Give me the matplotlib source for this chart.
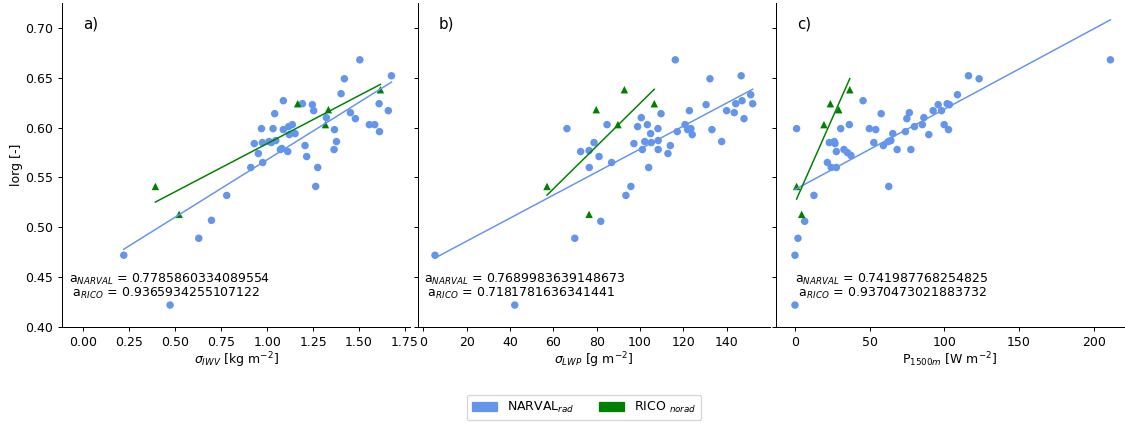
import numpy as np
import matplotlib
matplotlib.use("Agg")
import matplotlib.pyplot as plt
from matplotlib.patches import Patch

# ---------------- data ----------------
# NARVAL (rad) panel a: sigma_IWV vs lorg
narval_iwv = [1.504, 1.676, 1.420, 1.402, 1.088, 1.192, 1.246, 1.253, 1.041, 1.609, 1.659, 1.453,
              1.480, 1.322, 0.969, 1.032, 1.088, 1.117, 1.137, 1.121, 1.152, 1.366, 1.556, 1.585,
              1.611, 0.930, 0.974, 1.010, 1.023, 1.047, 1.206, 1.377, 0.952, 1.072, 1.080, 1.112,
              1.364, 1.215, 0.976, 0.911, 1.275, 1.264, 0.780, 0.697, 0.628, 0.220, 0.472]
narval_iwv_lorg = [0.668, 0.652, 0.649, 0.634, 0.627, 0.624, 0.623, 0.617, 0.614, 0.624, 0.617, 0.615,
                   0.609, 0.610, 0.599, 0.599, 0.598, 0.601, 0.603, 0.593, 0.594, 0.598, 0.603, 0.603,
                   0.596, 0.584, 0.585, 0.586, 0.585, 0.587, 0.582, 0.586, 0.574, 0.578, 0.579, 0.576,
                   0.578, 0.571, 0.565, 0.560, 0.560, 0.541, 0.532, 0.507, 0.489, 0.472, 0.422]

# NARVAL panel b: sigma_LWP vs lorg
narval_lwp = [116.3, 132.3, 146.7, 151.1, 147.1, 144.2, 152.0, 130.5, 122.8, 140.0, 143.5, 109.7,
              148.0, 100.6, 84.8, 98.9, 103.4, 108.3, 120.8, 122.0, 123.5, 133.2, 117.2, 124.1,
              104.9, 66.3, 78.8, 76.5, 72.6, 81.1, 86.9, 76.6, 97.2, 102.2, 105.2, 108.4,
              101.1, 108.4, 114.0, 112.9, 137.7, 104.0, 95.8, 93.5, 81.9, 69.9, 5.4, 42.2]
narval_lwp_lorg = [0.668, 0.649, 0.652, 0.633, 0.627, 0.624, 0.624, 0.623, 0.617, 0.617, 0.615, 0.614,
                   0.609, 0.610, 0.603, 0.601, 0.603, 0.599, 0.603, 0.598, 0.599, 0.598, 0.596, 0.593,
                   0.594, 0.599, 0.585, 0.577, 0.576, 0.571, 0.565, 0.560, 0.584, 0.586, 0.585, 0.587,
                   0.578, 0.578, 0.582, 0.574, 0.586, 0.560, 0.541, 0.532, 0.506, 0.489, 0.472, 0.422]

# NARVAL panel c: P_1500m vs lorg
narval_p = [211.2, 116.2, 123.3, 108.8, 45.6, 95.9, 101.9, 103.4, 92.5, 98.1, 76.6, 57.7,
            74.9, 86.3, 1.1, 30.6, 36.4, 49.8, 54.1, 80.0, 85.3, 99.9, 102.8, 74.0,
            65.5, 89.6, 23.0, 26.3, 26.8, 52.8, 59.2, 62.5, 64.2, 27.7, 32.8, 35.1,
            37.5, 68.4, 77.6, 21.7, 24.3, 27.7, 62.8, 12.7, 6.5, 2.0, 0.0, 0.0]
narval_p_lorg = [0.668, 0.652, 0.649, 0.633, 0.627, 0.623, 0.624, 0.623, 0.617, 0.617, 0.615, 0.614,
                 0.609, 0.610, 0.599, 0.599, 0.603, 0.599, 0.598, 0.601, 0.603, 0.603, 0.598, 0.596,
                 0.594, 0.593, 0.585, 0.586, 0.584, 0.585, 0.582, 0.586, 0.587, 0.576, 0.578, 0.575,
                 0.572, 0.578, 0.578, 0.565, 0.560, 0.560, 0.541, 0.532, 0.506, 0.489, 0.472, 0.422]

# RICO (norad)
rico_lorg = [0.541, 0.513, 0.624, 0.618, 0.603, 0.638]
rico_iwv = [0.392, 0.521, 1.166, 1.333, 1.317, 1.616]
rico_lwp = [57.1, 76.5, 106.6, 79.8, 89.8, 92.8]
rico_p = [1.1, 4.5, 23.7, 29.3, 19.4, 36.7]

panel_labels = ["a)", "b)", "c)"]
xlabels = [r"$\sigma_{IWV}$ [kg m$^{-2}$]", r"$\sigma_{LWP}$ [g m$^{-2}$]", r"P$_{1500m}$ [W m$^{-2}$]"]
a_narval = ["0.7785860334089554", "0.7689983639148673", "0.741987768254825"]
a_rico = ["0.9365934255107122", "0.7181781636341441", "0.9370473021883732"]
xticks_list = [np.arange(0, 1.76, 0.25), np.arange(0, 141, 20), np.arange(0, 201, 50)]
xtick_fmt = ["{:.2f}", "{:.0f}", "{:.0f}"]
xlims = [(-0.116, 1.777), (-2.45, 160.0), (-12.7, 220.3)]

narval_sets = [(narval_iwv, narval_iwv_lorg), (narval_lwp, narval_lwp_lorg), (narval_p, narval_p_lorg)]
rico_sets = [(rico_iwv, rico_lorg), (rico_lwp, rico_lorg), (rico_p, rico_lorg)]

blue = "cornflowerblue"
green = "green"

W, H = 1125, 423
DPI = 90
fig = plt.figure(figsize=(W / DPI, H / DPI), dpi=DPI)
plt.rcParams['font.size'] = 10

# axes pixel boxes (left, right)
boxes = [(62, 410), (418, 770), (776, 1124)]
top_px, bot_px = 3, 327
text_x = [0.02, 0.018, 0.054]

axes = []
for i, (l, r) in enumerate(boxes):
    ax = fig.add_axes([l / W, (H - bot_px) / H, (r - l) / W, (bot_px - top_px) / H])
    axes.append(ax)
    nx, ny = narval_sets[i]
    rx, ry = rico_sets[i]
    ax.scatter(nx, ny, s=36, color=blue, edgecolors='none', zorder=2)
    ax.scatter(rx, ry, s=36, marker='^', color=green, edgecolors='none', zorder=3)
    # linear fits
    nx_a, ny_a = np.array(nx), np.array(ny)
    cN = np.polyfit(nx_a, ny_a, 1)
    xs = np.array([nx_a.min(), nx_a.max()])
    ax.plot(xs, np.polyval(cN, xs), color=blue, lw=1.2, zorder=4)
    rx_a, ry_a = np.array(rx), np.array(ry)
    cR = np.polyfit(rx_a, ry_a, 1)
    xs = np.array([rx_a.min(), rx_a.max()])
    ax.plot(xs, np.polyval(cR, xs), color=green, lw=1.2, zorder=4)

    ax.set_xlim(*xlims[i])
    ax.set_ylim(0.40, 0.725)
    ax.set_xticks(xticks_list[i])
    ax.set_xticklabels([xtick_fmt[i].format(v) for v in xticks_list[i]])
    ax.set_yticks(np.arange(0.40, 0.701, 0.05))
    if i == 0:
        ax.set_yticklabels(["{:.2f}".format(v) for v in np.arange(0.40, 0.701, 0.05)])
        ax.set_ylabel("lorg [-]", labelpad=1.5)
    else:
        ax.set_yticklabels([])
    ax.spines['top'].set_visible(False)
    ax.spines['right'].set_visible(False)
    ax.set_xlabel(xlabels[i], labelpad=1.5)
    ax.text(0.06, 0.935, panel_labels[i], transform=ax.transAxes, fontsize=12, va='center', ha='left')
    ax.text(text_x[i], 0.135, "a$_{NARVAL}$ = " + a_narval[i],
            transform=ax.transAxes, ha='left', va='baseline', fontsize=10)
    ax.text(text_x[i], 0.0935, " a$_{RICO}$ = " + a_rico[i],
            transform=ax.transAxes, ha='left', va='baseline', fontsize=10)

handles = [Patch(color=blue, label=r"NARVAL$_{rad}$"), Patch(color=green, label=r"RICO $_{norad}$")]
fig.legend(handles=handles, loc='center', bbox_to_anchor=(584 / W, 1 - 407.5 / H), ncol=2, fontsize=10)

fig.savefig("out.png", dpi=DPI)
